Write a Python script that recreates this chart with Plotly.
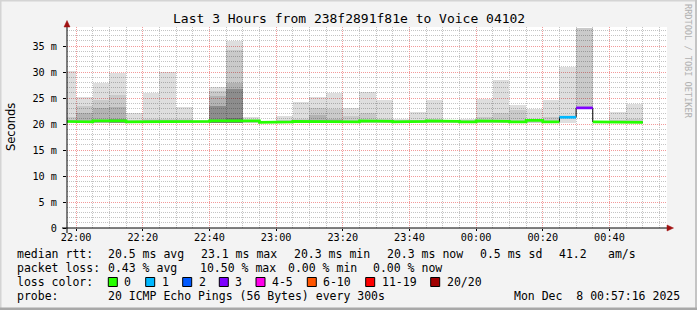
import plotly.graph_objects as go
import pandas as pd

# ---------------- data ----------------
bar_start = pd.date_range("2025-12-07 21:55:00", periods=35, freq="5min")
STEP = pd.Timedelta(minutes=5)

median_ms = [20.5, 20.4, 20.6, 20.6, 20.4, 20.5, 20.5, 20.5, 20.5, 20.6,
             20.6, 20.6, 20.3, 20.4, 20.5, 20.5, 20.5, 20.4, 20.6, 20.5,
             20.4, 20.5, 20.6, 20.5, 20.4, 20.6, 20.5, 20.4, 20.7, 20.4,
             21.3, 23.1, 20.4, 20.4, 20.3]
loss_class = [0] * 30 + [1, 3] + [0, 0, 0]

smoke_min = [20.1] * 31 + [23.1] + [20.1, 20.1, 20.1]
smoke_max = [30.2, 25.1, 27.8, 29.9, 22.2, 26.0, 30.0, 23.3, 20.6, 27.1,
             35.9, 21.3, 20.3, 21.5, 24.2, 25.2, 26.0, 23.1, 26.2, 24.7,
             21.0, 22.3, 24.7, 20.6, 21.0, 24.9, 28.4, 23.7, 22.8, 24.7,
             31.0, 38.5, 20.5, 22.3, 23.9]
smoke_l2 = [21.3, 23.4, 24.7, 25.6, 20.8, 20.9, 21.0, 20.9, 20.6, 26.3,
            34.2, 20.8, 20.3, 20.8, 20.9, 23.1, 22.8, 21.5, 22.2, 20.9,
            20.8, 20.8, 20.9, 20.6, 20.8, 21.3, 22.2, 22.6, 20.9, 21.3,
            20.1, 38.5, 20.5, 20.8, 20.9]
smoke_l3 = [20.1, 22.2, 23.1, 23.3, 20.1, 20.1, 20.1, 20.1, 20.1, 25.3,
            27.9, 20.1, 20.1, 20.1, 20.1, 21.7, 21.0, 20.1, 20.1, 20.1,
            20.1, 20.1, 20.1, 20.1, 20.1, 20.1, 20.1, 20.1, 20.1, 20.1,
            20.1, 23.1, 20.1, 20.1, 20.1]
smoke_l4 = [20.1, 20.1, 20.1, 21.0, 20.1, 20.1, 20.1, 20.1, 20.1, 23.5,
            26.8, 20.1, 20.1, 20.1, 20.1, 20.1, 20.1, 20.1, 20.1, 20.1,
            20.1, 20.1, 20.1, 20.1, 20.1, 20.1, 20.1, 20.1, 20.1, 20.1,
            20.1, 23.1, 20.1, 20.1, 20.1]
smoke_l5 = [20.1] * 9 + [20.8, 21.2] + [20.1] * 20 + [23.1] + [20.1] * 3

loss_labels = ["0", "1", "2", "3", "4-5", "6-10", "11-19", "20/20"]
loss_colors = ["#26ff00", "#00b8ff", "#0059ff", "#7e00ff", "#ff00ea",
               "#ff5500", "#ff0000", "#a10000"]

y_tickvals = [0, 5, 10, 15, 20, 25, 30, 35]
y_ticktext = ["0", "5 m", "10 m", "15 m", "20 m", "25 m", "30 m", "35 m"]

title_text = "Last 3 Hours from 238f2891f81e to Voice 04102"
legend_rows = [
    [("median rtt:", 15.0), ("20.5 ms avg", 106.3), ("23.1 ms max", 199.0),
     ("20.3 ms min", 292.0), ("20.3 ms now", 385.0), ("0.5 ms sd", 478.0),
     ("41.2", 556.7), ("am/s", 605.7)],
    [("packet loss:", 15.0), ("0.43 % avg", 106.3), ("10.50 % max", 198.4),
     ("0.00 % min", 285.7), ("0.00 % now", 371.3)],
    [("loss color:", 15.0)],
    [("probe:", 15.0), ("20 ICMP Echo Pings (56 Bytes) every 300s", 106.3),
     ("Mon Dec\u00a0\u00a08 00:57:16 2025", 511.7)],
]
legend_row_y = [254.3, 268.3, 281.7, 296.0]
loss_box_x = [108.3, 145.7, 182.7, 219.3, 256.0, 307.3, 365.7, 430.7]

# ---------------- geometry helpers ----------------
W, H = 697, 310
PL, PR, PT, PB = 67, 667, 27, 228


def px(x):
    return (x - PL) / (PR - PL)


def py(y):
    return (PB - y) / (PB - PT)


MONO = "DejaVu Sans Mono"
fig = go.Figure()

centers = [t + STEP / 2 for t in bar_start]
width_ms = STEP.total_seconds() * 1000

layers = [(smoke_max, 0.13), (smoke_l2, 0.089), (smoke_l3, 0.109),
          (smoke_l4, 0.207), (smoke_l5, 0.155)]
for lvl, a in layers:
    fig.add_trace(go.Bar(
        x=centers, y=[max(0, v - b) for v, b in zip(lvl, smoke_min)],
        base=smoke_min, width=width_ms,
        marker=dict(color=f"rgba(0,0,0,{a})", line=dict(width=0)),
        hoverinfo="skip", showlegend=False))

# black median step line
xs = list(bar_start) + [bar_start[-1] + STEP]
ys = list(median_ms) + [median_ms[-1]]
fig.add_trace(go.Scatter(x=xs, y=ys, mode="lines", line_shape="hv",
                         line=dict(color="#000000", width=1),
                         hoverinfo="skip", showlegend=False))

# coloured median bands per loss class
for c in sorted(set(loss_class)):
    bx, by = [], []
    for i, t in enumerate(bar_start):
        if loss_class[i] != c:
            continue
        bx += [t, t + STEP]
        by += [median_ms[i], median_ms[i]]
        if i + 1 >= len(bar_start) or loss_class[i + 1] != c:
            bx.append(None)
            by.append(None)
    fig.add_trace(go.Scatter(x=bx, y=by, mode="lines",
                             line=dict(color=loss_colors[c], width=2.7),
                             hoverinfo="skip", showlegend=False))

# ---------------- annotations ----------------
ann = []
ann.append(dict(text=title_text, x=px(348.5), y=py(19), xref="paper", yref="paper",
                xanchor="center", yanchor="middle", showarrow=False,
                font=dict(family=MONO, size=13, color="#000")))
ann.append(dict(text="Seconds", x=px(11), y=py(127), xref="paper", yref="paper",
                xanchor="center", yanchor="middle", showarrow=False, textangle=-90,
                font=dict(family="DejaVu Sans", size=11.5, color="#000")))
ann.append(dict(text="RRDTOOL / TOBI OETIKER", x=px(688), y=py(61), xref="paper",
                yref="paper", xanchor="center", yanchor="middle", showarrow=False,
                textangle=90, font=dict(family=MONO, size=8.6, color="#b0b0b0")))
for row, yy in zip(legend_rows, legend_row_y):
    for txt, xx in row:
        ann.append(dict(text=txt, x=px(xx), y=py(yy), xref="paper", yref="paper",
                        xanchor="left", yanchor="middle", showarrow=False,
                        font=dict(family=MONO, size=11.5, color="#000")))

shapes = []
for lab, col, bx0 in zip(loss_labels, loss_colors, loss_box_x):
    shapes.append(dict(type="rect", xref="paper", yref="paper",
                       x0=px(bx0), x1=px(bx0 + 9), y0=py(286.5), y1=py(277.5),
                       fillcolor=col, line=dict(color="#000", width=1)))
    ann.append(dict(text=lab, x=px(bx0 + 14.0), y=py(legend_row_y[2]),
                    xref="paper", yref="paper", xanchor="left", yanchor="middle",
                    showarrow=False, font=dict(family=MONO, size=11.5, color="#000")))

# axis lines + arrows
shapes.append(dict(type="line", xref="paper", yref="paper", x0=px(62), x1=px(668),
                   y0=py(228), y1=py(228), line=dict(color="#000", width=1)))
shapes.append(dict(type="line", xref="paper", yref="paper", x0=px(67), x1=px(67),
                   y0=py(233), y1=py(25), line=dict(color="#000", width=1)))
shapes.append(dict(type="path", xref="paper", yref="paper",
                   path=f"M {px(667)},{py(225)} L {px(673.5)},{py(228)} L {px(667)},{py(231)} Z",
                   fillcolor="#a01010", line=dict(color="#a01010", width=0.5)))
shapes.append(dict(type="path", xref="paper", yref="paper",
                   path=f"M {px(64)},{py(27)} L {px(67)},{py(20.5)} L {px(70)},{py(27)} Z",
                   fillcolor="#a01010", line=dict(color="#a01010", width=0.5)))
# frame shading
for (x0, x1, y0, y1, col) in [(0, 697, 0, 1.5, "#d4d4d4"), (0, 1.5, 0, 310, "#d4d4d4"),
                              (695, 697, 0, 310, "#c4c4c4")]:
    shapes.append(dict(type="rect", xref="paper", yref="paper", x0=px(x0), x1=px(x1),
                       y0=py(y1), y1=py(y0), fillcolor=col, line=dict(width=0)))
shapes.append(dict(type="rect", xref="paper", yref="paper", x0=px(0), x1=px(697),
                   y0=py(310), y1=py(307.5), fillcolor="#a8a8a8", line=dict(width=0)))

fig.update_layout(
    width=W, height=H,
    margin=dict(l=PL, r=W - PR, t=PT, b=H - PB, pad=0),
    paper_bgcolor="#f3f3f3", plot_bgcolor="#ffffff",
    barmode="overlay", bargap=0, showlegend=False,
    annotations=ann, shapes=shapes,
    xaxis=dict(
        type="date",
        range=["2025-12-07 21:57:16", "2025-12-08 00:57:16"],
        tick0="2025-12-07 22:00:00", dtick=20 * 60 * 1000, tickformat="%H:%M",
        showgrid=True, gridcolor="#f29a9a", griddash="1px,1px", gridwidth=1,
        ticks="outside", ticklen=2, tickcolor="#000", showline=False, zeroline=False,
        tickfont=dict(family=MONO, size=10.2, color="#000"),
        ticklabelstandoff=-2,
        minor=dict(tick0="2025-12-07 22:00:00", dtick=5 * 60 * 1000, showgrid=True,
                   gridcolor="#c4c4c4", griddash="1px,1px", ticks=""),
        fixedrange=True,
    ),
    yaxis=dict(
        range=[0, (PB - PT) / 5.2],
        tickmode="array", tickvals=y_tickvals, ticktext=y_ticktext,
        showgrid=True, gridcolor="#f29a9a", griddash="1px,1px", gridwidth=1,
        ticks="outside", ticklen=3, tickcolor="#000", showline=False, zeroline=False,
        tickfont=dict(family=MONO, size=10.2, color="#000"),
        ticklabelstandoff=4,
        minor=dict(tickmode="linear", tick0=0, dtick=1, showgrid=True,
                   gridcolor="#c4c4c4", griddash="1px,1px", ticks=""),
        fixedrange=True,
    ),
)

fig.write_html("out.html")
